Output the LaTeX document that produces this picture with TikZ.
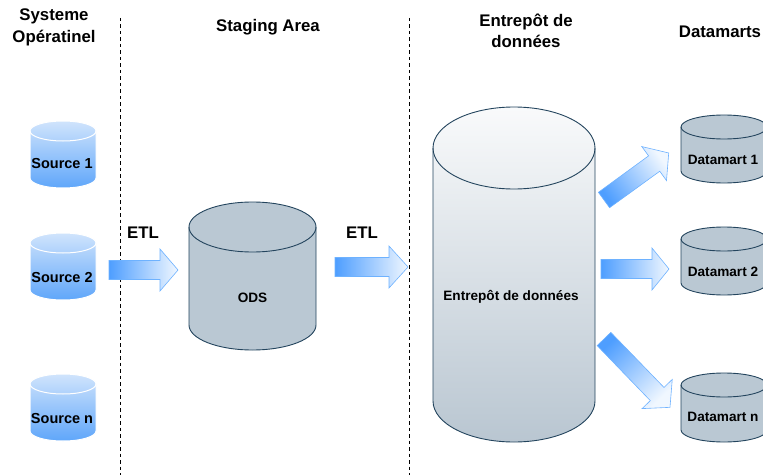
\documentclass[tikz,border=0pt]{standalone}
\usepackage{fontspec}
\setmainfont{Liberation Sans}
\definecolor{arrblue}{RGB}{78,158,255}
\definecolor{arrwhite}{RGB}{240,247,255}
\definecolor{arredge}{RGB}{110,178,255}
\definecolor{srctop}{RGB}{208,228,252}
\definecolor{srcbot}{RGB}{95,166,250}
\definecolor{dbfill}{RGB}{186,200,211}
\definecolor{dbedge}{RGB}{35,68,93}
\definecolor{whtop}{RGB}{249,250,251}
\definecolor{whbot}{RGB}{185,198,209}
\newcommand\dbcyl[7]{%
  \path[#6] ({#1-#4},{#2-#5}) arc[start angle=180,end angle=0,x radius=#4,y radius=#5]
    -- ({#1+#4},{#3+#5}) arc[start angle=0,end angle=-180,x radius=#4,y radius=#5] -- cycle;
  \draw[#7] ({#1-#4},{#2-#5}) arc[start angle=180,end angle=360,x radius=#4,y radius=#5];
}
\newcommand\bigarrow[6]{%
  \begin{scope}[shift={(#1,#2)},rotate=#3]
    \path[arrsty,#6] (0,-9.5) -- ({#4-#5},-9.5) -- ({#4-#5},-21) -- (#4,0)
      -- ({#4-#5},21) -- ({#4-#5},9.5) -- (0,9.5) -- cycle;
  \end{scope}
}
\tikzset{
  title/.style={font=\bfseries\fontsize{16.8}{21.5}\selectfont, align=center, inner sep=0pt},
  lbl/.style={font=\bfseries\fontsize{13.6}{16}\selectfont, inner sep=0pt},
  srclbl/.style={font=\bfseries\fontsize{14.5}{16}\selectfont, inner sep=0pt},
  arrsty/.style={draw=arredge, line width=0.6pt},
  srcbody/.style={top color=srctop, bottom color=srcbot, draw=white, line width=1pt},
  srcline/.style={draw=white, line width=1pt},
  dbbody/.style={fill=dbfill, draw=dbedge, line width=0.9pt},
  dbline/.style={draw=dbedge, line width=0.9pt},
  whbody/.style={top color=whtop, bottom color=whbot, draw=dbedge, line width=0.9pt},
  sep/.style={draw=black, line width=0.8pt, dash pattern=on 3.5pt off 3pt},
}
\begin{document}
\begin{tikzpicture}[x=1pt,y=1pt]
\useasboundingbox (0,0) rectangle (763,475);
\clip (0,0) rectangle (763,475);
% separators
\coordinate (s1t) at (120,457); \coordinate (s1b) at (120,0);
\coordinate (s2t) at (409,457); \coordinate (s2b) at (409,0);
\draw[sep] (s1t) -- (s1b);
\draw[sep] (s2t) -- (s2b);
% titles
\node[title] (t1) at (54,447.5) {Systeme\\Opératinel};
\node[title] (t2) at (268,448) {Staging Area};
\node[title] (t3) at (526,444) {Entrepôt de\\données};
\node[title] (t4) at (720,443) {Datamarts};
% sources
\dbcyl{63}{354}{287}{33}{10}{srcbody}{srcline}
\dbcyl{63}{242}{175}{33}{10}{srcbody}{srcline}
\dbcyl{63}{101}{34}{33}{10}{srcbody}{srcline}
\node[srclbl] (src1) at (62,311) {Source 1};
\node[srclbl] (src2) at (62,197) {Source 2};
\node[srclbl] (srcn) at (62,56) {Source n};
% ODS
\dbcyl{252.5}{273}{125}{63.5}{25}{dbbody}{dbline}
\node[lbl] (ods) at (252.5,177) {ODS};
% warehouse
\dbcyl{514}{368}{33}{81}{41}{whbody}{dbline}
\node[lbl] (wh) at (511,178) {Entrepôt de données};
% datamarts
\dbcyl{724}{360}{292}{43}{12}{dbbody}{dbline}
\dbcyl{724}{248}{180}{43}{12}{dbbody}{dbline}
\dbcyl{724}{102}{33}{43}{12}{dbbody}{dbline}
\node[lbl] (dm1) at (723,315) {Datamart 1};
\node[lbl] (dm2) at (723,203) {Datamart 2};
\node[lbl] (dmn) at (723,58) {Datamart n};
% arrows
\bigarrow{109}{205}{0}{69}{18}{left color=arrblue, right color=arrwhite}
\bigarrow{335}{208}{0}{73}{19}{left color=arrblue, right color=arrwhite}
\bigarrow{601}{206}{0}{68}{17}{left color=arrblue, right color=arrwhite}
\bigarrow{604}{275}{36}{80}{18}{top color=arrblue, bottom color=arrwhite, shading angle=126}
\bigarrow{604}{136}{-46}{95}{18.5}{top color=arrblue, bottom color=arrwhite, shading angle=44}
\node[title] (etl1) at (143,242) {ETL};
\node[title] (etl2) at (362,242) {ETL};
\end{tikzpicture}
\end{document}
